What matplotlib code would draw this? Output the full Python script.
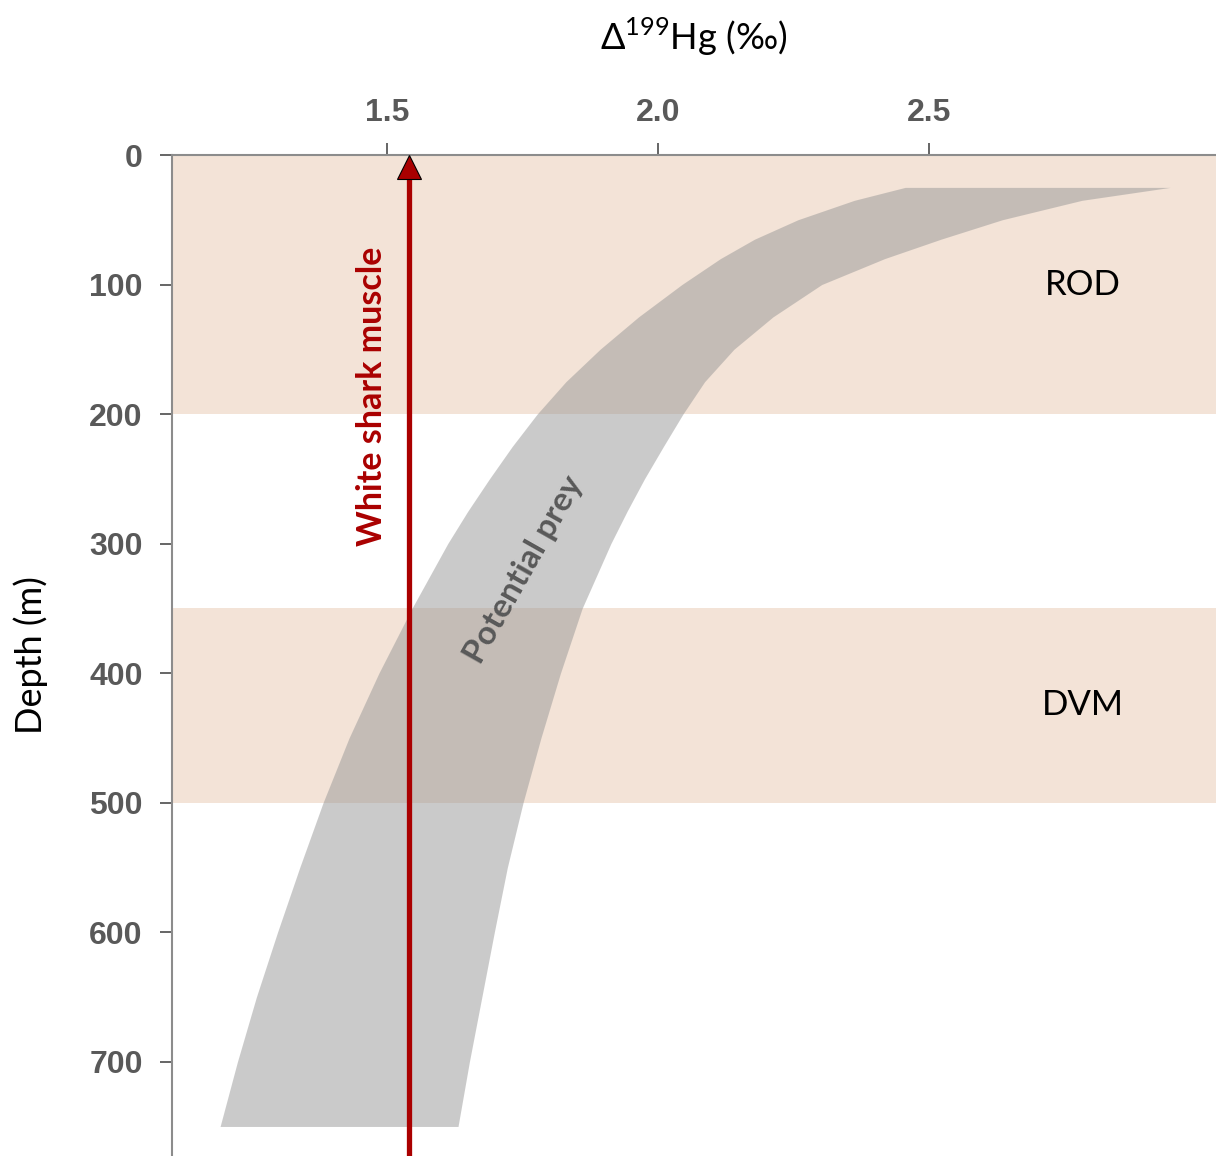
import matplotlib
matplotlib.use('Agg')
import matplotlib.pyplot as plt
import numpy as np

plt.rcParams['font.family'] = ['Lato', 'DejaVu Sans']
plt.rcParams['mathtext.fontset'] = 'custom'
plt.rcParams['mathtext.rm'] = 'Lato'

# prey band edges (depth in m, Δ199Hg in permil)
band_depth = [25, 35, 50, 65, 80, 100, 125, 150, 175, 200, 225, 250, 275, 300,
              350, 400, 450, 500, 550, 600, 650, 700, 750]
band_left = [2.456, 2.362, 2.258, 2.178, 2.115, 2.044, 1.964, 1.893, 1.830, 1.777,
             1.731, 1.689, 1.649, 1.612, 1.546, 1.485, 1.430, 1.382, 1.339, 1.298,
             1.259, 1.224, 1.192]
band_right = [2.945, 2.782, 2.635, 2.522, 2.418, 2.302, 2.212, 2.140, 2.086, 2.046,
              2.010, 1.975, 1.943, 1.913, 1.860, 1.820, 1.784, 1.751, 1.722, 1.698,
              1.675, 1.652, 1.631]

shark_val = 1.54
zones = [('ROD', 0, 200), ('DVM', 350, 500)]
zone_label_depth = [100, 425]

xticks = [1.5, 2.0, 2.5]
yticks = [0, 100, 200, 300, 400, 500, 600, 700]

fig = plt.figure(figsize=(12.16, 11.56), dpi=100)
ax = fig.add_axes([172/1216, 0, 1 - 172/1216, 1 - 155/1156])
ax.set_xlim(1.1033, 3.0295)
ax.set_ylim(772.8, 0)

peach = '#F3E3D7'
for (name, d0, d1), dl in zip(zones, zone_label_depth):
    ax.axhspan(d0, d1, color=peach, lw=0, zorder=0)
    ax.text(2.784, dl, name, fontsize=25, ha='center', va='center', color='black')

# prey band
ax.fill_betweenx(band_depth, band_left, band_right, color='#979797', alpha=0.5,
                 lw=0, zorder=1)

ax.plot([shark_val, shark_val], [772.8, 12], color='#AA0000', lw=3.8, zorder=3,
        solid_capstyle='butt')
ax.plot([shark_val], [9], marker='^', markersize=17, color='#AA0000',
        markeredgecolor='black', markeredgewidth=0.8, zorder=4, clip_on=False)

ax.text(1.472, 186, 'White shark muscle', rotation=90, fontsize=24.5, fontweight='bold',
        color='#AA0000', ha='center', va='center')
ax.text(1.752, 320, 'Potential prey', rotation=60.5, fontsize=24, fontweight='bold',
        color='#595959', ha='center', va='center', rotation_mode='anchor')

ax.xaxis.tick_top()
ax.xaxis.set_label_position('top')
ax.set_xticks(xticks)
ax.set_xticklabels([f'{t:.1f}' for t in xticks])
ax.set_yticks(yticks)

for sp in ['right', 'bottom']:
    ax.spines[sp].set_visible(False)
for sp in ['left', 'top']:
    ax.spines[sp].set_color('#8C8C8C')
    ax.spines[sp].set_linewidth(1.5)

ax.tick_params(axis='both', direction='out', length=9, width=1.3, color='#595959',
               labelsize=23, labelcolor='#595959')
ax.tick_params(axis='x', pad=10.5)
ax.tick_params(axis='y', pad=12)
for lab in ax.get_xticklabels() + ax.get_yticklabels():
    lab.set_fontfamily(['Liberation Sans', 'DejaVu Sans'])
    lab.set_fontweight('bold')

ax.set_xlabel(r'$\Delta^{199}$Hg (‰)', fontsize=26)
ax.xaxis.set_label_coords(0.5, 1 + 105/1001)
ax.set_ylabel('Depth (m)', fontsize=26)
ax.yaxis.set_label_coords(-124/1044, 0.5)

fig.savefig('out.png', dpi=100)
